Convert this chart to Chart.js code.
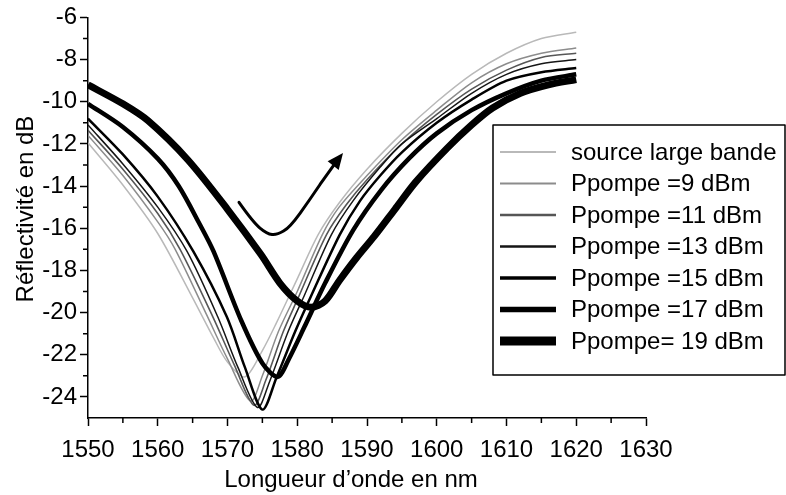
<!DOCTYPE html>
<html>
<head>
<meta charset="utf-8">
<script src="https://cdn.jsdelivr.net/npm/chart.js@4.4.1/dist/chart.umd.min.js"></script>
<style>
  html, body { margin: 0; padding: 0; background: #fff; }
  #wrap { width: 786px; height: 495px; }
</style>
</head>
<body>
<div id="wrap"><canvas id="reflChart" width="786" height="495"></canvas></div>
<script>
// spectres de réflectivité : [longueur d'onde (nm), dB]
const seriesLabels = [
  "source large bande",
  "Ppompe =9 dBm",
  "Ppompe =11 dBm",
  "Ppompe =13 dBm",
  "Ppompe =15 dBm",
  "Ppompe =17 dBm",
  "Ppompe= 19 dBm",
];

const sourceLarge = [
  [1550, -11.95], [1555, -13.95], [1560, -16.25], [1565, -19.3], [1568, -21.2], [1570, -22.35],
  [1572.5, -23.05], [1575, -21.8], [1577, -20.5], [1580, -18.4], [1583, -16.3], [1586, -14.8],
  [1590, -13.2], [1595, -11.5], [1600, -10.0], [1605, -8.7], [1610, -7.7], [1615, -7.0], [1620, -6.7],
];
const pompe9 = [
  [1550, -11.6], [1555, -13.5], [1560, -15.7], [1562.5, -17.0], [1567, -20.1], [1570, -22.2],
  [1573.3, -24.2], [1575, -23.0], [1577.3, -20.9], [1580, -19.0], [1583.6, -16.3], [1586, -15.0],
  [1590, -13.5], [1595, -11.8], [1600, -10.4], [1605, -9.1], [1610, -8.2], [1615, -7.7], [1620, -7.45],
];
const pompe11 = [
  [1550, -11.35], [1555, -13.2], [1560, -15.3], [1563.2, -17.0], [1567.9, -20.2], [1571, -22.5],
  [1573.8, -24.4], [1575.5, -23.2], [1578, -20.9], [1580, -19.4], [1584.2, -16.3], [1587, -14.9],
  [1590, -13.7], [1595, -12.0], [1600, -10.6], [1605, -9.4], [1610, -8.5], [1615, -7.9], [1620, -7.7],
];
const pompe13 = [
  [1550, -11.1], [1555, -12.95], [1560, -15.0], [1564.2, -17.1], [1568.6, -20.2], [1571.5, -22.6],
  [1574.3, -24.5], [1576, -23.3], [1578.7, -20.9], [1581, -19.2], [1584.9, -16.3], [1588, -14.7],
  [1591.9, -13.1], [1595, -12.0], [1600, -10.8], [1605, -9.6], [1610, -8.7], [1615, -8.2], [1620, -8.0],
];
const pompe15 = [
  [1550, -10.8], [1555, -12.5], [1560, -14.5], [1565.1, -17.1], [1569.9, -20.2], [1572.5, -22.6],
  [1575, -24.6], [1577, -23.1], [1579.7, -20.9], [1582, -19.2], [1586.1, -16.3], [1589, -14.7],
  [1591.9, -13.5], [1595, -12.4], [1600, -11.0], [1605, -9.9], [1610, -9.0], [1615, -8.6], [1620, -8.4],
];
const pompe17 = [
  [1550, -10.1], [1555, -11.2], [1560, -12.7], [1563, -14.0], [1566, -15.8], [1568, -17.1],
  [1572, -20.4], [1575, -22.4], [1577.2, -23.05], [1578.8, -22.2], [1581, -20.7], [1584, -18.6],
  [1588, -16.1], [1592, -14.2], [1596, -12.7], [1600, -11.5], [1605, -10.4], [1610, -9.6],
  [1615, -9.0], [1620, -8.7],
];
const pompe19 = [
  [1550, -9.2], [1555, -10.1], [1558.6, -10.9], [1564.3, -12.75], [1570, -15.1], [1574.8, -17.25],
  [1577.5, -18.6], [1580, -19.45], [1582, -19.75], [1584, -19.45], [1586, -18.5], [1588.5, -17.4],
  [1591, -16.4], [1594, -15.1], [1597, -13.8], [1601.5, -12.2], [1605, -11.1], [1608, -10.3],
  [1612, -9.6], [1616, -9.2], [1620, -8.95],
];

const xTicks = [1550, 1560, 1570, 1580, 1590, 1600, 1610, 1620, 1630];
const yTicks = [-24, -22, -20, -18, -16, -14, -12, -10, -8, -6];

// flèche annotée (en unités des axes)
const arrowPath = [
  [1571.65, -14.77], [1573.66, -15.71], [1575.66, -16.27], [1577.1, -16.32],
  [1578.96, -15.95], [1581.83, -14.63], [1584.7, -13.22], [1586.56, -12.43],
];

const allSeries = [sourceLarge, pompe9, pompe11, pompe13, pompe15, pompe17, pompe19];
const colors = ["#b9b9b9", "#8c8c8c", "#565656", "#151515", "#000", "#000", "#000"];
const widths = [1.5, 1.5, 1.6, 1.5, 2.5, 4.5, 7];
const legendWidths = [2, 2, 2.5, 2.5, 3.5, 5.5, 9];

const FONT = "'Liberation Sans', Arial, sans-serif";
Chart.defaults.font.family = FONT;
Chart.defaults.color = "#000";

const extras = {
  id: "extras",
  afterDraw(chart) {
    const { ctx, scales: { x, y }, chartArea } = chart;
    ctx.save();

    // petites graduations
    ctx.strokeStyle = "#000";
    ctx.lineWidth = 1.5;
    ctx.beginPath();
    for (let v = 1555; v < 1630; v += 10) {
      const px = x.getPixelForValue(v);
      ctx.moveTo(px, chartArea.bottom);
      ctx.lineTo(px, chartArea.bottom + 5);
    }
    for (let v = -23; v <= -7; v += 2) {
      const py = y.getPixelForValue(v);
      ctx.moveTo(chartArea.left, py);
      ctx.lineTo(chartArea.left - 5, py);
    }
    ctx.stroke();

    // titres des axes
    ctx.fillStyle = "#000";
    ctx.font = "24px " + FONT;
    ctx.textAlign = "center";
    ctx.textBaseline = "alphabetic";
    ctx.fillText("Longueur d\u2019onde en nm", 351, 487);
    ctx.save();
    ctx.translate(33, 209);
    ctx.rotate(-Math.PI / 2);
    ctx.fillText("Réflectivité en dB", 0, 0);
    ctx.restore();

    // flèche
    const pts = arrowPath.map(p => [x.getPixelForValue(p[0]), y.getPixelForValue(p[1])]);
    ctx.lineWidth = 3;
    ctx.lineCap = "round";
    ctx.lineJoin = "round";
    ctx.beginPath();
    ctx.moveTo(pts[0][0], pts[0][1]);
    for (let i = 1; i < pts.length - 2; i++) {
      const mx = (pts[i][0] + pts[i + 1][0]) / 2;
      const my = (pts[i][1] + pts[i + 1][1]) / 2;
      ctx.quadraticCurveTo(pts[i][0], pts[i][1], mx, my);
    }
    const tip = pts[pts.length - 1];
    const prev = pts[pts.length - 2];
    const ang = Math.atan2(tip[1] - prev[1], tip[0] - prev[0]);
    ctx.lineTo(tip[0] - 10 * Math.cos(ang), tip[1] - 10 * Math.sin(ang));
    ctx.stroke();
    ctx.beginPath();
    ctx.moveTo(tip[0], tip[1]);
    ctx.lineTo(tip[0] - 16 * Math.cos(ang) + 7 * Math.sin(ang), tip[1] - 16 * Math.sin(ang) - 7 * Math.cos(ang));
    ctx.lineTo(tip[0] - 16 * Math.cos(ang) - 7 * Math.sin(ang), tip[1] - 16 * Math.sin(ang) + 7 * Math.cos(ang));
    ctx.closePath();
    ctx.fill();

    // légende
    ctx.fillStyle = "#fff";
    ctx.fillRect(493, 125, 292, 250);
    ctx.strokeStyle = "#000";
    ctx.lineWidth = 1.5;
    ctx.lineCap = "butt";
    ctx.strokeRect(493, 125, 292, 250);
    ctx.textAlign = "left";
    ctx.textBaseline = "middle";
    ctx.font = "24px " + FONT;
    seriesLabels.forEach((label, i) => {
      const ly = 152 + i * 31.5;
      ctx.strokeStyle = colors[i];
      ctx.lineWidth = legendWidths[i];
      ctx.beginPath();
      ctx.moveTo(500, ly);
      ctx.lineTo(556, ly);
      ctx.stroke();
      ctx.fillStyle = "#000";
      ctx.fillText(label, 571, ly + 1);
    });

    ctx.restore();
  },
};

const ctx = document.getElementById("reflChart").getContext("2d");
const reflChart = new Chart(ctx, {
  type: "line",
  data: {
    datasets: allSeries.map((s, i) => ({
      label: seriesLabels[i],
      data: s.map(p => ({ x: p[0], y: p[1] })),
      borderColor: colors[i],
      borderWidth: widths[i],
      pointRadius: 0,
      fill: false,
      tension: 0.3,
      order: allSeries.length - i,
    })),
  },
  options: {
    responsive: false,
    animation: false,
    devicePixelRatio: 1,
    layout: { padding: { top: 13, right: 140, bottom: 0, left: 0 } },
    plugins: { legend: { display: false }, tooltip: { enabled: false } },
    scales: {
      x: {
        type: "linear",
        min: 1550,
        max: 1630,
        afterBuildTicks: s => { s.ticks = xTicks.map(v => ({ value: v })); },
        afterFit: s => { s.height = 77; },
        border: { display: true, color: "#000", width: 1.5 },
        grid: { display: true, drawOnChartArea: false, drawTicks: true, tickLength: 8, tickColor: "#000", tickWidth: 1.5 },
        ticks: { color: "#000", font: { size: 24 }, padding: 10, maxRotation: 0, callback: v => String(v) },
      },
      y: {
        type: "linear",
        min: -25,
        max: -6,
        afterBuildTicks: s => { s.ticks = yTicks.map(v => ({ value: v })); },
        afterFit: s => { s.width = 88; },
        border: { display: true, color: "#000", width: 1.5 },
        grid: { display: true, drawOnChartArea: false, drawTicks: true, tickLength: 8, tickColor: "#000", tickWidth: 1.5 },
        ticks: { color: "#000", font: { size: 24 }, padding: 3, callback: v => String(v) },
      },
    },
  },
  plugins: [extras],
});
</script>
</body>
</html>
